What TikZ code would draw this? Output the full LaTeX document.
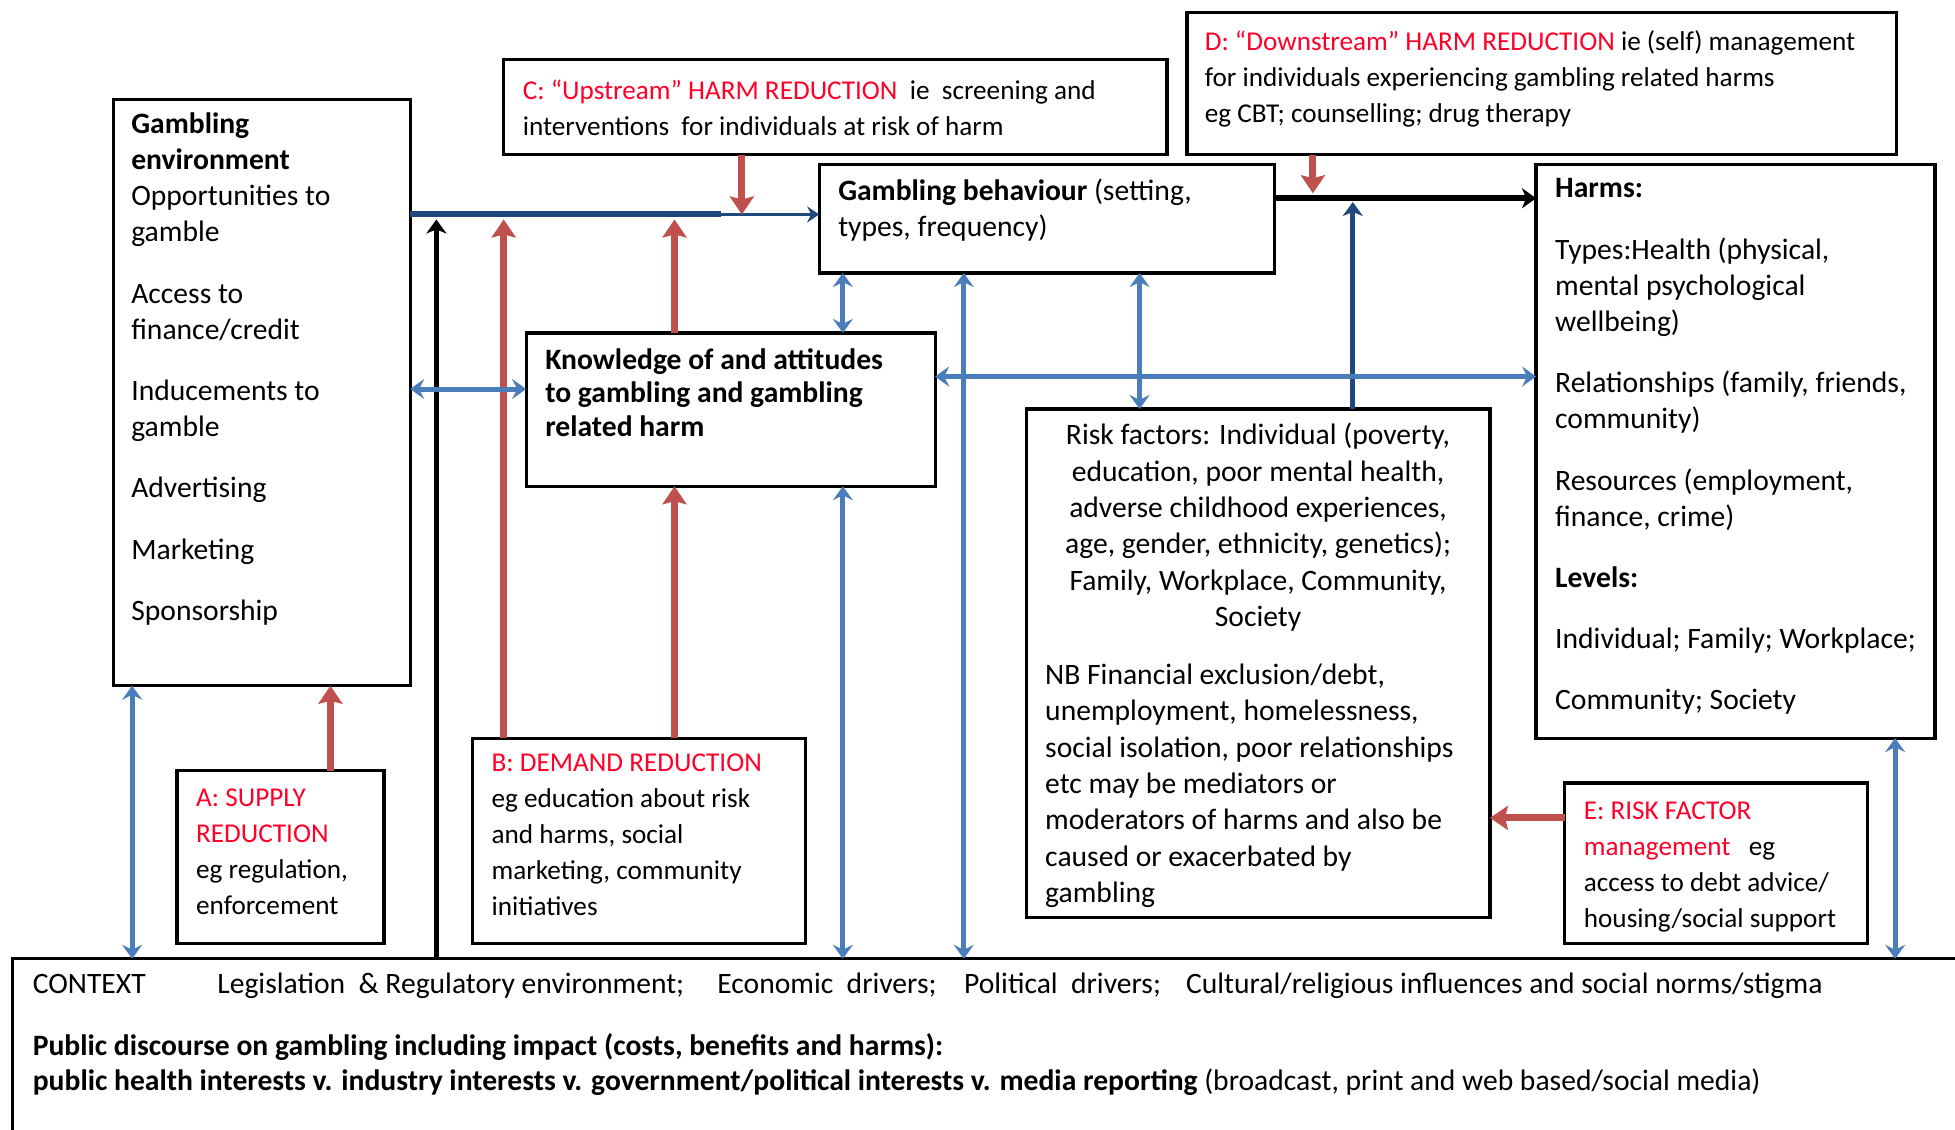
\documentclass[tikz,border=0pt]{standalone}
\usepackage{fontspec}
\setmainfont{Carlito}
\usetikzlibrary{arrows.meta,fit,calc}
\definecolor{navy}{RGB}{31,73,125}
\definecolor{bluea}{RGB}{74,126,187}
\definecolor{reda}{RGB}{192,80,77}
\definecolor{redt}{RGB}{255,0,40}
\newcommand{\bigf}{\fontsize{14.8pt}{18.2pt}\selectfont}
\newcommand{\listf}{\fontsize{14.8pt}{18.1pt}\selectfont}
\newcommand{\smf}{\fontsize{13.6pt}{18pt}\selectfont}
\newcommand{\ctxf}{\fontsize{14.8pt}{17.5pt}\selectfont}
\begin{document}
\begin{tikzpicture}[x=0.6234pt,y=-0.6234pt,
  box/.style={draw, line width=1.6pt, inner sep=0pt, outer sep=0pt},
  txt/.style={anchor=north west, inner sep=0pt, align=left, font=\bigf},
  ltxt/.style={anchor=north west, inner sep=0pt, align=left, font=\listf},
  stxt/.style={anchor=north west, inner sep=0pt, align=left, font=\smf},
  bluedbl/.style={draw=bluea, line width=2.5pt, {Stealth[length=7pt,width=10pt,inset=2.5pt]}-{Stealth[length=7pt,width=10pt,inset=2.5pt]}},
  redarr/.style={draw=reda, line width=3.5pt, -{Stealth[length=9pt,width=12pt,inset=1.5pt]}},
  navythick/.style={draw=navy, line width=3pt},
  navythin/.style={draw=navy, line width=1.2pt, -{Stealth[length=6pt,width=8pt,inset=2pt]}},
  navyup/.style={draw=navy, line width=2.4pt, -{Stealth[length=7pt,width=10pt,inset=2pt]}},
  blackarr/.style={draw=black, line width=3.2pt, -{Stealth[length=7pt,width=10pt,inset=2pt]}},
  blackup/.style={draw=black, line width=2.6pt, -{Stealth[length=7pt,width=10pt,inset=2pt]}}
]
\useasboundingbox (0,0) rectangle (1568,906);
\fill[white] (0,0) rectangle (1568,906);

% boxes
\node[box, fit={(91,80) (329,550)}] (env) {};
\node[box, fit={(404,48) (936,124)}] (cbox) {};
\node[box, fit={(952,10) (1521,124)}] (dbox) {};
\node[box, fit={(657,132) (1022,219)}] (gb) {};
\node[box, fit={(1232,132) (1552,592)}] (harms) {};
\node[box, fit={(422,267) (750,390)}] (know) {};
\node[box, fit={(823,328) (1195,736)}] (risk) {};
\node[box, fit={(142,618) (308,757)}] (abox) {};
\node[box, fit={(379,592) (646,757)}] (bbox) {};
\node[box, fit={(1255,628) (1498,757)}] (ebox) {};
\node[inner sep=0pt, outer sep=0pt, fit={(10,769) (1568,906)}] (ctx) {};
\draw[line width=1.6pt] (ctx.south west) -- (ctx.north west) -- (ctx.north east);

% texts
\node[ltxt] (envt) at (105,90) {\textbf{Gambling}\\\textbf{environment}\\Opportunities to\\gamble\\[12.5pt]Access to\\finance/credit\\[12.5pt]Inducements to\\gamble\\[12.5pt]Advertising\\[12.5pt]Marketing\\[12.5pt]Sponsorship};
\node[stxt] (ct) at (419,64) {{\color{redt}C: “Upstream” HARM REDUCTION}\ \ ie\ \ screening and\\interventions\ \ for individuals at risk of harm};
\node[stxt] (dt) at (966,24) {{\color{redt}D: “Downstream” HARM REDUCTION} ie (self) management\\for individuals experiencing gambling related harms\\eg CBT; counselling; drug therapy};
\node[txt] (gbt) at (672,143) {\textbf{Gambling behaviour} (setting,\\types, frequency)};
\node[ltxt] (harmst) at (1247,143) {\textbf{Harms:}\\[12.5pt]Types:Health (physical,\\mental psychological\\wellbeing)\\[12.5pt]Relationships (family, friends,\\community)\\[12.5pt]Resources (employment,\\finance, crime)\\[12.5pt]\textbf{Levels:}\\[12.5pt]Individual; Family; Workplace;\\[12.5pt]Community; Society};
\node[txt, font=\bfseries\fontsize{14.8pt}{16.8pt}\selectfont] (knowt) at (437,279) {Knowledge of and attitudes\\to gambling and gambling\\related harm};
\node[txt, anchor=north, align=center] (riskt) at (1009,339) {Risk factors: Individual (poverty,\\education, poor mental health,\\adverse childhood experiences,\\age, gender, ethnicity, genetics);\\Family, Workplace, Community,\\Society};
\node[txt] (nbt) at (838,532) {NB Financial exclusion/debt,\\unemployment, homelessness,\\social isolation, poor relationships\\etc may be mediators or\\moderators of harms and also be\\caused or exacerbated by\\gambling};
\node[stxt] (at) at (157,632) {{\color{redt}A: SUPPLY}\\{\color{redt}REDUCTION}\\eg regulation,\\enforcement};
\node[stxt] (bt) at (394,604) {{\color{redt}B: DEMAND REDUCTION}\\eg education about risk\\and harms, social\\marketing, community\\initiatives};
\node[stxt] (et) at (1270,643) {{\color{redt}E: RISK FACTOR}\\{\color{redt}management}\ \ \ eg\\access to debt advice/\\housing/social support};
\node[anchor=north west, inner sep=0pt, align=left, font=\ctxf] (ctxt) at (26,780) {\makebox[92.3pt][l]{CONTEXT}\makebox[250pt][l]{Legislation\ \ \& Regulatory environment;}\makebox[123.4pt][l]{Economic\ \ drivers;}\makebox[111pt][l]{Political\ \ drivers;}Cultural/religious influences and social norms/stigma\\[13.5pt]\textbf{Public discourse on gambling including impact (costs, benefits and harms):}\\\textbf{public health interests v. industry interests v. government/political interests v. media reporting} (broadcast, print and web based/social media)};

% helper coordinates
\coordinate (yNavy) at (0,172);
\coordinate (yNavyB) at (0,176);
\coordinate (yBlk) at (0,159);
\coordinate (yBlkB) at (0,162);
\coordinate (yBlkT) at (0,155);
\coordinate (y312) at (0,312);
\coordinate (y302) at (0,302);
\coordinate (y656) at (0,656);
\coordinate (x578) at (578,0);
\coordinate (x350) at (350,0);
\coordinate (x404) at (404,0);
\coordinate (x541) at (541,0);
\coordinate (x595) at (595,0);
\coordinate (x1053) at (1053,0);
\coordinate (x1085) at (1085,0);
\coordinate (x676) at (676,0);
\coordinate (x773) at (773,0);
\coordinate (x914) at (914,0);
\coordinate (x106) at (106,0);
\coordinate (x1520) at (1520,0);
\coordinate (x265) at (265,0);
\coordinate (navyMid) at (x578 |- yNavy);

% gambling environment -> behaviour
\draw[navythick] (env.east |- yNavy) -- (navyMid);
\draw[navythin] (navyMid) -- (gb.west |- yNavy);
% context -> line (black)
\draw[blackup] (ctx.north -| x350) -- (x350 |- yNavyB);
% B demand reduction
\draw[redarr] (bbox.north -| x404) -- (x404 |- yNavyB);
\draw[redarr] (bbox.north -| x541) -- (know.south -| x541);
\draw[redarr] (know.north -| x541) -- (x541 |- yNavyB);
% C upstream
\draw[redarr] (cbox.south -| x595) -- (x595 |- yNavy);
% behaviour -> harms
\draw[blackarr] (gb.east |- yBlk) -- (harms.west |- yBlk);
% D downstream
\draw[redarr] (dbox.south -| x1053) -- (x1053 |- yBlkT);
% risk -> harm line
\draw[navyup] (risk.north -| x1085) -- (x1085 |- yBlkB);
% blue double arrows
\draw[bluedbl] (env.east |- y312) -- (know.west |- y312);
\draw[bluedbl] (gb.south -| x676) -- (know.north -| x676);
\draw[bluedbl] (know.east |- y302) -- (harms.west |- y302);
\draw[bluedbl] (ctx.north -| x773) -- (gb.south -| x773);
\draw[bluedbl] (gb.south -| x914) -- (risk.north -| x914);
\draw[bluedbl] (know.south -| x676) -- (ctx.north -| x676);
\draw[bluedbl] (env.south -| x106) -- (ctx.north -| x106);
\draw[bluedbl] (harms.south -| x1520) -- (ctx.north -| x1520);
% E and A
\draw[redarr] (ebox.west |- y656) -- (risk.east |- y656);
\draw[redarr] (abox.north -| x265) -- (env.south -| x265);
\end{tikzpicture}
\end{document}
